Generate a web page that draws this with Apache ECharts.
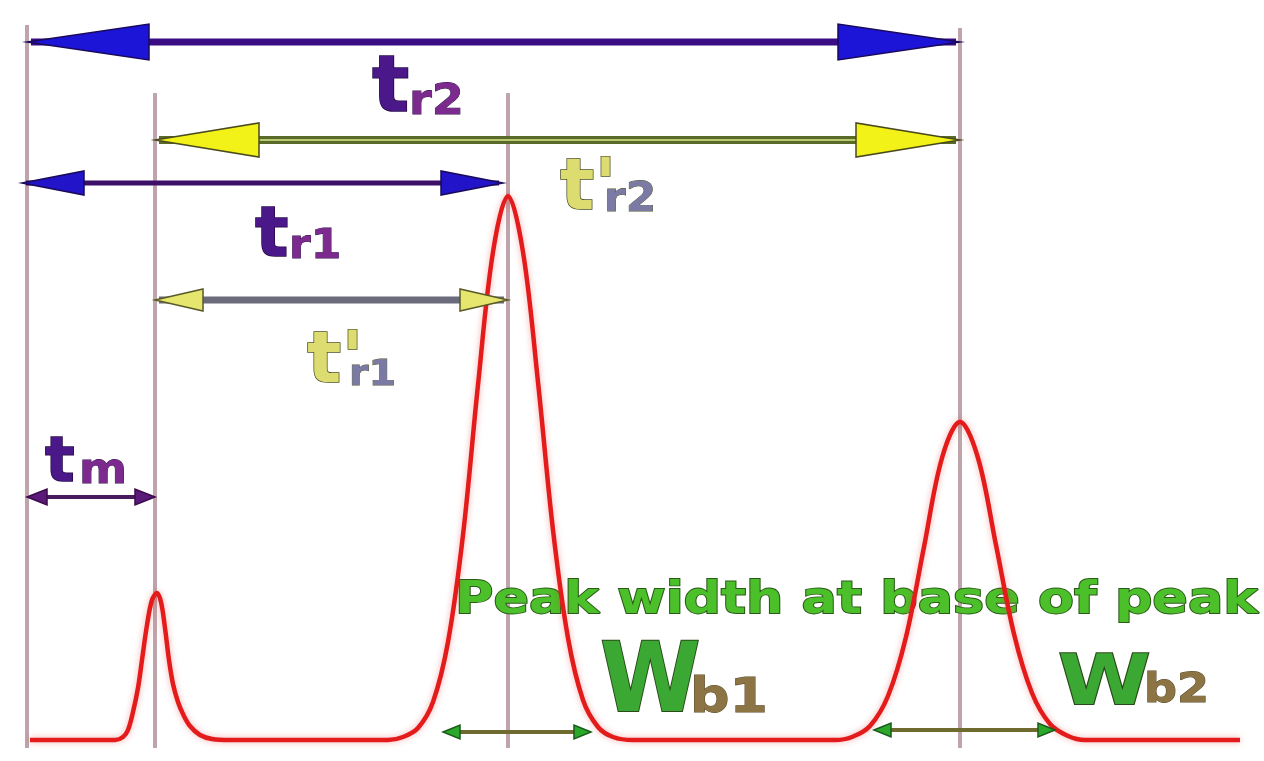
<!DOCTYPE html>
<html><head><meta charset="utf-8">
<script src="https://cdn.jsdelivr.net/npm/echarts@6/dist/echarts.min.js"></script>
<style>html,body{margin:0;padding:0;background:#fff}#c{width:1264px;height:761px}</style>
</head><body><div id="c"></div>
<script>
// ---------------- data (time along baseline, detector signal above baseline) ----------------
const curveTime   = [3, 88, 96, 101, 106, 111, 115, 120, 125, 130, 134, 138, 142, 146, 151, 156, 163, 173, 185, 203,
                     361, 376, 391, 406, 421, 436, 451, 466, 481, 496, 511, 526, 541, 556, 571, 586, 606,
                     808, 825, 843, 861, 879, 897, 915, 933, 951, 969, 987, 1005, 1023, 1041, 1058, 1213];
const curveSignal = [0, 0, 3, 10, 28, 52, 80, 115, 140, 147, 138, 112, 80, 56, 38, 26, 14, 5, 1, 0,
                     0, 3, 12, 38, 98, 205, 355, 488, 544, 488, 358, 210, 102, 40, 13, 3, 0,
                     0, 3, 14, 44, 103, 193, 282, 318, 282, 195, 106, 47, 16, 4, 0, 0];

const markerNames = ['start', 'tm', 'tr1', 'tr2'];
const markerTime  = [0, 128, 481, 933];
const markerTop   = [715, 647, 647, 712];

const arrowNames  = ['tr2', "t'r2", 'tr1', "t'r1", 'tm', 'Wb1', 'Wb2'];
const arrowStart  = [0, 128, -5, 128, 0, 416, 847];
const arrowEnd    = [933, 933, 476, 481, 128, 564, 1028];
const arrowLevel  = [698, 600, 557, 440, 243, 8, 10];

const labelMain   = ['t', "t'", 't', "t'", 't'];
const labelSub    = ['r2', 'r2', 'r1', 'r1', 'm'];
const noteText    = 'Peak width at base of peak';
const widthMain   = ['W', 'W'];
const widthSub    = ['b1', 'b2'];

// ---------------- styles / layout ----------------
const FONT = '"DejaVu Sans", "Liberation Sans", sans-serif';
const font = s => `bold ${s}px ${FONT}`;
const arrowStyles = [
  {line:'#3b0d85', lw:7, head:'#1c14d6', hs:'#1a0a5a', len:122, half:18},
  {line:'#5a6a28', lw:8, inner:'#b8c870', head:'#f2f218', hs:'#4a4a20', len:104, half:17},
  {line:'#3c1066', lw:5, head:'#2214c8', hs:'#1a0a5a', len:62, half:12},
  {line:'#6b6b7b', lw:7, head:'#e6e66e', hs:'#5a5a28', len:48, half:11},
  {line:'#4a1a5e', lw:4, head:'#5a1a7a', hs:'#3a0a4a', len:20, half:8},
  {line:'#6f6a30', lw:4, head:'#2aa82a', hs:'#1a5a1a', len:17, half:7},
  {line:'#6f6a30', lw:4, head:'#2aa82a', hs:'#1a5a1a', len:17, half:7}
];
const purple = {mainFill:'#4a1888', subFill:'#7d2a8e', stroke:'#260845'};
const yellow = {mainFill:'#dcdc70', subFill:'#7a7aa4', stroke:'#4e5224'};
const labelLayout = [
  Object.assign({t:345, s:622, ms:78, ss:42, dx:37}, purple),
  Object.assign({t:533, s:525, ms:72, ss:40, dx:44}, yellow),
  Object.assign({t:228, s:478, ms:70, ss:40, dx:34}, purple),
  Object.assign({t:280, s:352, ms:72, ss:36, dx:42}, yellow),
  Object.assign({t:18,  s:253, ms:62, ss:42, dx:34}, purple)
];
const widthLayout = [
  {t:573, s:20, ms:96, ss:48, dx:90, scale:0.95},
  {t:1031, s:30, ms:70, ss:40, dx:86, scale:1.2}
];
const noteLayout = {t:428, s:123, size:44, scale:1.19};

function textEl(x, baseY, str, size, fill, stroke, lw, scaleX) {
  return {
    type:'text', x:x, y:baseY - 0.35 * size, scaleX: scaleX || 1,
    style:{text:str, font:font(size), fill:fill, stroke:stroke, lineWidth:lw,
           align:'left', verticalAlign:'middle', shadowBlur:4, shadowColor:'rgba(0,0,0,0.3)'}
  };
}

const chart = echarts.init(document.getElementById('c'), null, {renderer:'canvas'});
chart.setOption({
  animation:false,
  backgroundColor:'#ffffff',
  grid:{left:0, right:0, top:0, bottom:0},
  xAxis:{type:'value', min:-27, max:1237, show:false},
  yAxis:{type:'value', min:-21, max:740, show:false},
  series:[
    { // vertical reference lines
      type:'custom', z:0, clip:false,
      data: markerTime.map((t, i) => ({name:markerNames[i], value:[t, markerTop[i]]})),
      renderItem:(params, api) => {
        const a = api.coord([api.value(0), -8]), b = api.coord([api.value(0), api.value(1)]);
        return {type:'line', shape:{x1:a[0], y1:a[1], x2:b[0], y2:b[1]},
                style:{stroke:'#bfa4ab', lineWidth:4}};
      }
    },
    { // bottom annotations under curve
      type:'custom', z:1, clip:false,
      data:[{name:'note', value:[noteLayout.t, noteLayout.s]}].concat(
        widthLayout.map((w, i) => ({name:widthMain[i] + widthSub[i], value:[w.t, w.s]}))),
      renderItem:(params, api) => {
        const p = api.coord([api.value(0), api.value(1)]);
        if (params.dataIndex === 0) {
          return textEl(p[0], p[1], noteText, noteLayout.size, '#4cc02a', '#2b5a18', 1.8, noteLayout.scale);
        }
        const k = params.dataIndex - 1, w = widthLayout[k];
        return {type:'group', children:[
          textEl(p[0], p[1], widthMain[k], w.ms, '#3aa832', '#2a4a1a', 2, w.scale),
          textEl(p[0] + w.dx, p[1] - 4, widthSub[k], w.ss, '#8c7444', '#5a4a2a', 1, 1.15)
        ]};
      }
    },
    { // chromatogram trace
      type:'line', z:2, name:'signal', smooth:0.35, symbol:'none',
      data: curveTime.map((t, i) => [t, curveSignal[i]]),
      lineStyle:{color:'#e31b1b', width:4.5, shadowBlur:6, shadowColor:'rgba(220,30,30,0.35)'}
    },
    { // arrows
      type:'custom', z:3, clip:false,
      data: arrowNames.map((n, i) => ({name:n, value:[arrowStart[i], arrowEnd[i], arrowLevel[i]]})),
      renderItem:(params, api) => {
        const st = arrowStyles[params.dataIndex];
        const a = api.coord([api.value(0), api.value(2)]), b = api.coord([api.value(1), api.value(2)]);
        const y = a[1], x0 = a[0], x1 = b[0];
        const kids = [{type:'line', shape:{x1:x0 + 4, y1:y, x2:x1 - 4, y2:y}, style:{stroke:st.line, lineWidth:st.lw}}];
        if (st.inner) kids.push({type:'line', shape:{x1:x0 + 4, y1:y, x2:x1 - 4, y2:y}, style:{stroke:st.inner, lineWidth:2}});
        kids.push({type:'polygon', shape:{points:[[x0, y], [x0 + st.len, y - st.half], [x0 + st.len, y + st.half]]},
                   style:{fill:st.head, stroke:st.hs, lineWidth:1.5}});
        kids.push({type:'polygon', shape:{points:[[x1, y], [x1 - st.len, y - st.half], [x1 - st.len, y + st.half]]},
                   style:{fill:st.head, stroke:st.hs, lineWidth:1.5}});
        return {type:'group', children:kids};
      }
    },
    { // time labels
      type:'custom', z:4, clip:false,
      data: labelLayout.map((l, i) => ({name:labelMain[i] + labelSub[i], value:[l.t, l.s]})),
      renderItem:(params, api) => {
        const i = params.dataIndex, l = labelLayout[i];
        const p = api.coord([api.value(0), api.value(1)]);
        return {type:'group', children:[
          textEl(p[0], p[1], labelMain[i], l.ms, l.mainFill, l.stroke, 1.5, 1),
          textEl(p[0] + l.dx, p[1], labelSub[i], l.ss, l.subFill, l.stroke, 0.8, 1.1)
        ]};
      }
    }
  ]
});
</script></body></html>
